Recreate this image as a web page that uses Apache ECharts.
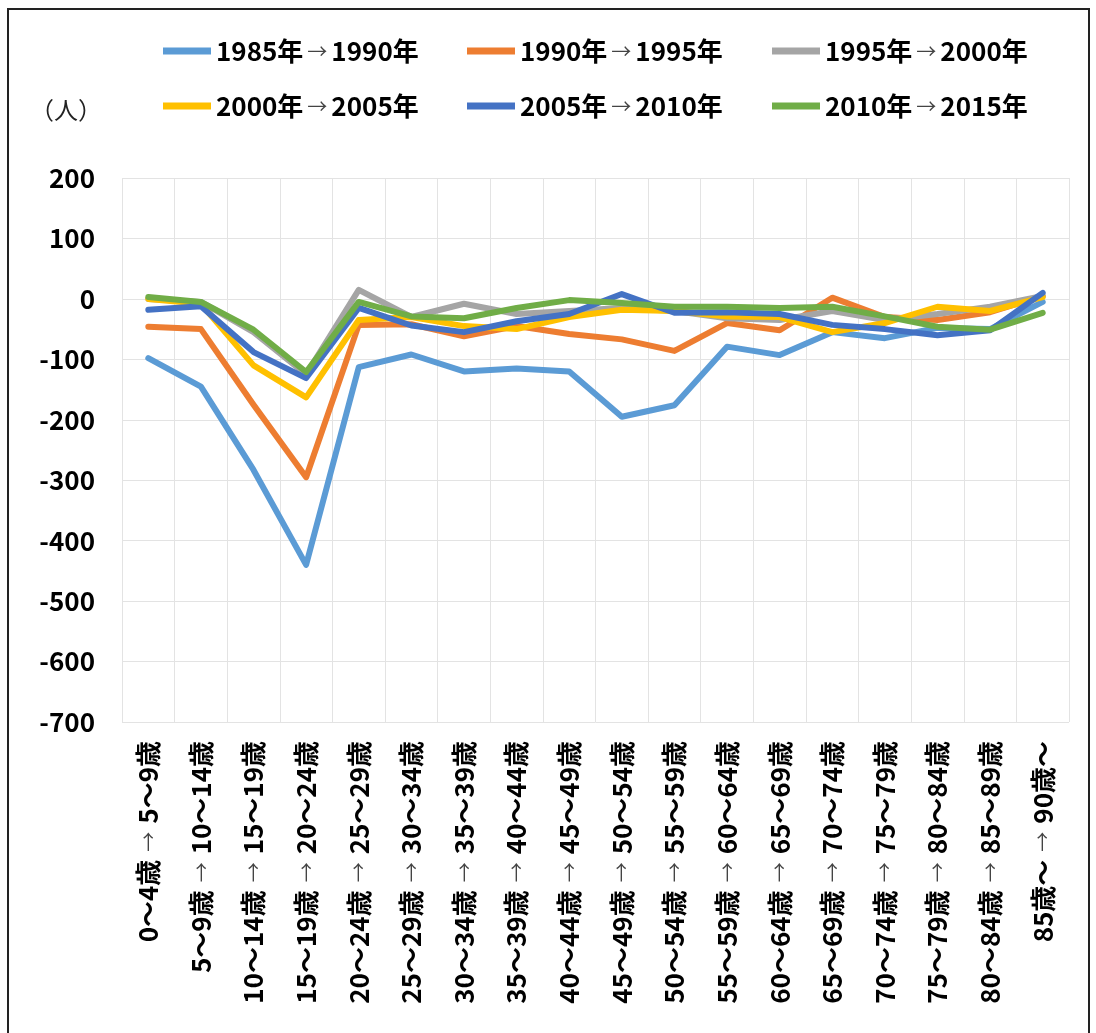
<!DOCTYPE html>
<html>
<head>
<meta charset="utf-8">
<script src="https://cdn.jsdelivr.net/npm/echarts@6/dist/echarts.min.js"></script>
<style>
    html, body { margin: 0; padding: 0; background: #fff; }
    #chart { width: 1096px; height: 1033px; }
</style>
</head>
<body>
<div id="chart"></div>
<script>
    // 年齢階級（コーホート）
    var categories = [
        '0～4歳→5～9歳', '5～9歳→10～14歳', '10～14歳→15～19歳', '15～19歳→20～24歳',
        '20～24歳→25～29歳', '25～29歳→30～34歳', '30～34歳→35～39歳', '35～39歳→40～44歳',
        '40～44歳→45～49歳', '45～49歳→50～54歳', '50～54歳→55～59歳', '55～59歳→60～64歳',
        '60～64歳→65～69歳', '65～69歳→70～74歳', '70～74歳→75～79歳', '75～79歳→80～84歳',
        '80～84歳→85～89歳', '85歳～→90歳～'
    ];

    var seriesNames = ['1985年→1990年', '1990年→1995年', '1995年→2000年',
                       '2000年→2005年', '2005年→2010年', '2010年→2015年'];

    var s1985 = [-98, -145, -283, -440, -113, -92, -120, -115, -120, -195, -176, -79, -93, -55, -65, -48, -50, -5];
    var s1990 = [-46, -50, -175, -295, -43, -42, -62, -45, -58, -67, -86, -40, -52, 2, -30, -35, -22, 5];
    var s1995 = [0, -5, -55, -125, 15, -30, -8, -25, -20, -15, -20, -32, -35, -20, -35, -25, -13, 5];
    var s2000 = [0, -8, -110, -163, -35, -30, -45, -50, -30, -18, -20, -29, -30, -55, -40, -13, -20, 3];
    var s2005 = [-18, -12, -88, -131, -15, -44, -55, -37, -25, 8, -23, -22, -25, -43, -50, -60, -52, 10];
    var s2010 = [3, -5, -51, -121, -5, -29, -32, -15, -2, -7, -13, -13, -15, -13, -29, -46, -51, -23];

    var yTicks = { min: -700, max: 200, interval: 100 };

    var colors = ['#5B9BD5', '#ED7D31', '#A5A5A5', '#FFC000', '#4472C4', '#70AD47'];
    var font = '"Noto Sans CJK JP", "Noto Sans", sans-serif';

    // 矢印だけ細く小さく
    function arrowText(s) {
        var p = s.split('→');
        return '{n|' + p[0] + '}{ar|→}{n|' + p[1] + '}';
    }

    var richText = function (size, gap) {
        return {
            n: { fontFamily: font, fontWeight: 'bold', fontSize: size, color: '#000' },
            ar: { fontFamily: font, fontWeight: 'normal', fontSize: size - 6, color: '#444', padding: [0, gap] }
        };
    };

    var allData = [s1985, s1990, s1995, s2000, s2005, s2010];

    // 凡例 2行3列
    var legendPos = [[163, 38], [467, 38], [772, 38], [163, 93], [467, 93], [772, 93]];
    var legends = seriesNames.map(function (name, i) {
        return {
            data: [name],
            left: legendPos[i][0],
            top: legendPos[i][1],
            padding: 0,
            icon: 'rect',
            itemWidth: 48,
            itemHeight: 7,
            selectedMode: false,
            formatter: arrowText,
            textStyle: { rich: richText(26, 4) }
        };
    });

    var chart = echarts.init(document.getElementById('chart'));

    var option = {
        backgroundColor: '#fff',
        color: colors,
        animation: false,
        legend: legends,
        grid: { left: 122, right: 27, top: 178, bottom: 311 },
        graphic: [
            {
                type: 'rect',
                silent: true,
                shape: { x: 8, y: 9, width: 1081, height: 1040 },
                style: { fill: 'none', stroke: '#222', lineWidth: 2 }
            },
            {
                type: 'text',
                silent: true,
                style: {
                    x: 66, y: 110, text: '（人）',
                    font: 'normal 24px ' + font,
                    fill: '#222', align: 'center', verticalAlign: 'middle'
                }
            }
        ],
        xAxis: {
            type: 'category',
            data: categories,
            boundaryGap: true,
            axisLine: { show: false },
            axisTick: { show: false },
            splitLine: { show: true, interval: 0, lineStyle: { color: '#e3e3e3', width: 1 } },
            axisLabel: {
                interval: 0,
                rotate: 90,
                margin: 19,
                formatter: arrowText,
                rich: richText(26, 8)
            }
        },
        yAxis: {
            type: 'value',
            min: yTicks.min,
            max: yTicks.max,
            interval: yTicks.interval,
            axisLine: { show: false },
            axisTick: { show: false },
            splitLine: { lineStyle: { color: '#e3e3e3', width: 1 } },
            axisLabel: {
                margin: 27,
                fontFamily: font,
                fontWeight: 'bold',
                fontSize: 26,
                color: '#000'
            }
        },
        series: allData.map(function (d, i) {
            return {
                name: seriesNames[i],
                type: 'line',
                data: d,
                symbol: 'none',
                lineStyle: { width: 6, join: 'round', cap: 'round' }
            };
        })
    };

    chart.setOption(option);
</script>
</body>
</html>
